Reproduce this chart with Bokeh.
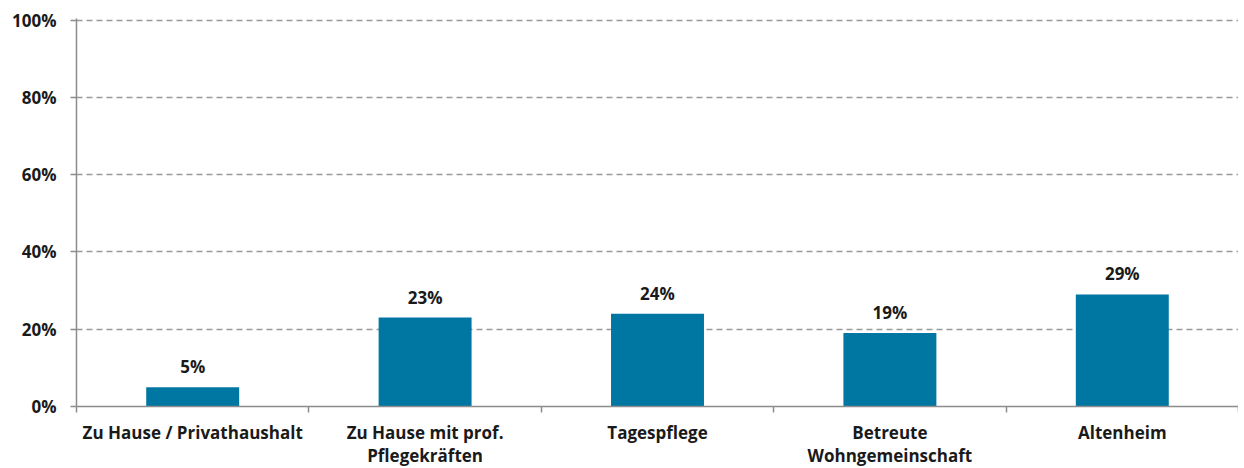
from bokeh.plotting import figure
from bokeh.models import ColumnDataSource, FixedTicker, Range1d, LabelSet
from bokeh.core.properties import value
from bokeh.embed import file_html
from bokeh.resources import INLINE

categories = ["Zu Hause / Privathaushalt", "Zu Hause mit prof.\nPflegekräften", "Tagespflege",
              "Betreute\nWohngemeinschaft", "Altenheim"]
values = [5, 23, 24, 19, 29]
y_ticks = [0, 20, 40, 60, 80, 100]

xpos = [i + 0.5 for i in range(len(categories))]
src = ColumnDataSource(dict(x=xpos, top=values, lbl=[f"{v}%" for v in values]))

FONT = "Open Sans"
FS = "17px"
TXT = "#1a1a1a"
p = figure(width=1238, height=469, output_backend="svg", toolbar_location=None,
           x_range=Range1d(0, len(categories)), y_range=Range1d(0, 100.4),
           min_border_left=76, min_border_right=0, min_border_top=18, min_border_bottom=58)
p.outline_line_color = None
p.vbar(x="x", top="top", width=0.4, bottom=0, source=src, color="#0077a3", line_color=None)

labels = LabelSet(x="x", y="top", text="lbl", source=src, text_align="center",
                  text_baseline="bottom", y_offset=9, text_font=value(FONT),
                  text_font_style="bold", text_font_size=FS, text_color=TXT)
p.add_layout(labels)

# y axis
p.yaxis.ticker = FixedTicker(ticks=y_ticks)
p.yaxis.major_label_overrides = {t: f"{t}%" for t in y_ticks}
p.yaxis.major_tick_out = 6
p.yaxis.major_tick_in = 0
p.yaxis.minor_tick_out = 0
p.yaxis.minor_tick_in = 0
p.yaxis.major_label_standoff = 14
p.yaxis.axis_line_color = "#8c8c8c"
p.yaxis.axis_line_width = 1.5
p.yaxis.major_tick_line_color = "#8c8c8c"
p.yaxis.major_tick_line_width = 1.5
p.yaxis.major_label_text_font = FONT
p.yaxis.major_label_text_font_style = "bold"
p.yaxis.major_label_text_font_size = FS
p.yaxis.major_label_text_color = TXT

# x axis
p.xaxis.ticker = FixedTicker(ticks=xpos, minor_ticks=list(range(len(categories) + 1)))
p.xaxis.major_label_overrides = {x: c for x, c in zip(xpos, categories)}
p.xaxis.major_tick_out = 0
p.xaxis.major_tick_in = 0
p.xaxis.minor_tick_out = 6
p.xaxis.minor_tick_in = 0
p.xaxis.minor_tick_line_color = "#8c8c8c"
p.xaxis.minor_tick_line_width = 1.5
p.xaxis.axis_line_color = "#8c8c8c"
p.xaxis.axis_line_width = 1.5
p.xaxis.major_label_standoff = 8
p.xaxis.major_label_text_font = FONT
p.xaxis.major_label_text_font_style = "bold"
p.xaxis.major_label_text_font_size = FS
p.xaxis.major_label_text_color = TXT
p.xaxis.major_label_text_line_height = 1.0

p.xgrid.grid_line_color = None
p.ygrid.grid_line_color = "#999999"
p.ygrid.grid_line_dash = "6 4"
p.ygrid.grid_line_width = 1.5

open("out.html", "w").write(file_html(p, INLINE))
